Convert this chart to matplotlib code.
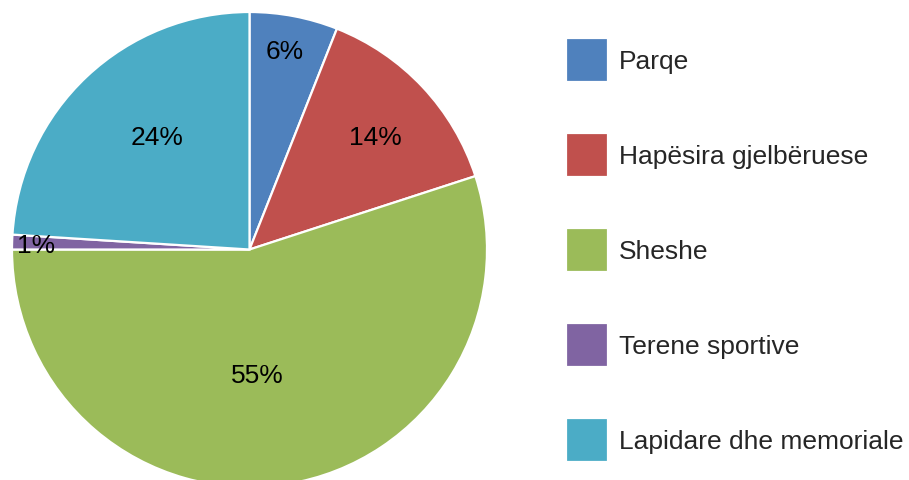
import matplotlib
matplotlib.use('Agg')
import matplotlib.pyplot as plt
import numpy as np

# data
categories = ["Parqe", "Hapësira gjelbëruese", "Sheshe",
              "Terene sportive", "Lapidare dhe memoriale"]
shares = [6, 14, 55, 1, 24]
colors = ["#4F81BD", "#C0504D", "#9BBB59", "#8064A2", "#4BACC6"]

# % label placement: distance from centre (fraction of radius)
# and angular nudge (degrees) away from the wedge middle
label_r = [0.85, 0.71, 0.53, 0.90, 0.613]
label_nudge = [0.8, -1.3, -5.5, 0.5, -3.8]

plt.rcParams['font.family'] = ['Liberation Sans', 'DejaVu Sans']

W, H = 909, 481
fig = plt.figure(figsize=(W / 100, H / 100), dpi=100)

# pie centre ~ (249.5, 250.5) px from top-left, radius ~237.5 px
cx, cy, R = 249.5, 250.5, 237.5
ax = fig.add_axes([(cx - R) / W, (H - cy - R) / H, 2 * R / W, 2 * R / H])

wedges, _ = ax.pie(
    shares,
    colors=colors,
    startangle=90,
    counterclock=False,
    radius=1,
    wedgeprops=dict(edgecolor="white", linewidth=1.6),
)
ax.set_xlim(-1, 1)
ax.set_ylim(-1, 1)
ax.set_aspect("equal")
ax.axis("off")
for w in wedges:
    w.set_clip_on(False)

for w, val, r, nudge in zip(wedges, shares, label_r, label_nudge):
    mid = np.deg2rad((w.theta1 + w.theta2) / 2 + nudge)
    ax.text(r * np.cos(mid), r * np.sin(mid), f"{val}%",
            ha="center", va="center", fontsize=19, color="black")

fs = 19
fig.legend(
    wedges, categories,
    loc="upper left",
    bbox_to_anchor=(566 / W, 1 - 39 / H),
    frameon=False,
    fontsize=fs,
    handlelength=1.58,
    handleheight=2.18,
    handletextpad=0.42,
    labelspacing=1.94,
    borderpad=0,
    borderaxespad=0,
    labelcolor="#262626",
)

fig.savefig("out.png", dpi=100)
